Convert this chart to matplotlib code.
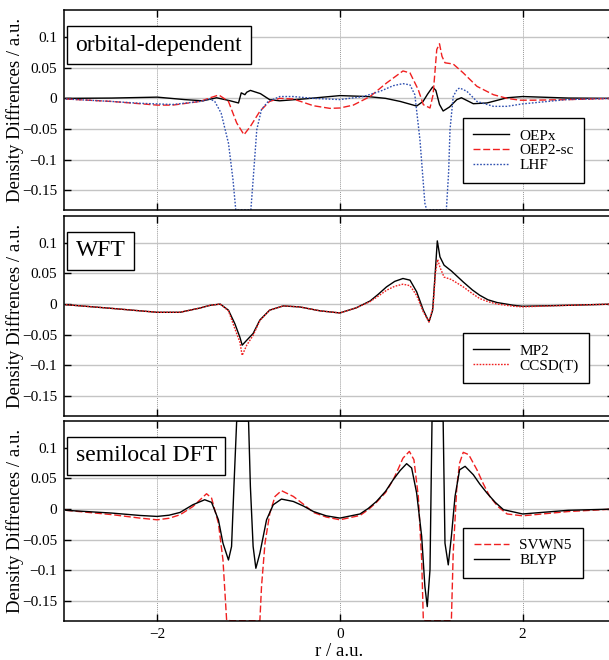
import numpy as np
import matplotlib
matplotlib.use("Agg")
import matplotlib.pyplot as plt
from matplotlib.ticker import FuncFormatter

plt.rcParams['font.family'] = ['Liberation Serif', 'DejaVu Serif']

# panel 1: orbital-dependent
x_oepx = [-3.0, -2.5, -2.0, -1.7, -1.5, -1.35, -1.2, -1.11, -1.08, -1.04, -1.02, -0.98, -0.87, -0.77,
          -0.66, -0.4, 0.0, 0.3, 0.5, 0.66, 0.84, 0.91, 0.96, 1.015, 1.05, 1.09, 1.13, 1.2, 1.28, 1.33,
          1.46, 1.61, 1.83, 2.0, 2.5, 3.0]
y_oepx = [0.0, 0.0005, 0.002, -0.002, -0.004, 0.001, -0.004, -0.0075, 0.009, 0.006, 0.010, 0.013, 0.0077,
          -0.002, -0.004, -0.001, 0.0045, 0.003, 0.0, -0.005, -0.0125, -0.005, 0.007, 0.0186, 0.013, -0.010,
          -0.0206, -0.014, -0.002, 0.001, -0.0087, -0.0075, 0.001, 0.003, 0.0005, 0.0]

x_oep2 = [-3.0, -2.5, -2.19, -2.0, -1.83, -1.53, -1.42, -1.325, -1.22, -1.13, -1.05, -0.98, -0.876, -0.77,
          -0.66, -0.51, -0.29, -0.11, 0.0, 0.146, 0.33, 0.51, 0.69, 0.767, 0.858, 0.913, 0.986, 1.02, 1.06,
          1.09, 1.117, 1.15, 1.24, 1.35, 1.5, 1.68, 1.83, 1.97, 2.11, 2.5, 3.0]
y_oep2 = [-0.001, -0.005, -0.0087, -0.011, -0.011, -0.005, 0.001, 0.0055, -0.005, -0.040, -0.0593, -0.0457,
          -0.021, -0.005, 0.0, -0.001, -0.012, -0.0163, -0.0157, -0.011, 0.003, 0.025, 0.0447, 0.0415, 0.014,
          -0.0103, -0.0157, 0.006, 0.0796, 0.089, 0.0686, 0.058, 0.056, 0.0415, 0.0196, 0.006, 0.0, -0.003,
          -0.003, -0.002, 0.0]

x_lhf = [-3.0, -2.5, -2.19, -1.83, -1.53, -1.42, -1.37, -1.30, -1.22, -1.17, -1.14, -1.06, -0.975, -0.95,
         -0.91, -0.858, -0.785, -0.657, -0.51, -0.29, 0.0, 0.256, 0.44, 0.584, 0.69, 0.767, 0.82, 0.876, 0.93,
         0.95, 1.05, 1.165, 1.19, 1.205, 1.24, 1.28, 1.31, 1.39, 1.5, 1.68, 1.83, 2.0, 2.48, 3.0]
y_lhf = [-0.001, -0.005, -0.008, -0.010, -0.005, -0.001, -0.005, -0.024, -0.073, -0.133, -0.20, -0.35, -0.20,
         -0.133, -0.051, -0.018, -0.005, 0.003, 0.003, 0.0, -0.002, 0.003, 0.0115, 0.0207, 0.024, 0.022, 0.006,
         -0.0675, -0.171, -0.22, -0.35, -0.20, -0.12, -0.051, 0.003, 0.014, 0.017, 0.0115, -0.005, -0.013,
         -0.013, -0.009, -0.002, 0.0]

# panel 2: WFT
x_mp2 = [-3.0, -2.5, -2.19, -2.0, -1.75, -1.53, -1.42, -1.31, -1.22, -1.15, -1.095, -1.07, -1.02, -0.95,
         -0.876, -0.77, -0.62, -0.438, -0.219, 0.0, 0.18, 0.33, 0.42, 0.51, 0.6, 0.69, 0.767, 0.84, 0.913,
         0.975, 1.015, 1.04, 1.066, 1.095, 1.14, 1.22, 1.35, 1.45, 1.53, 1.62, 1.72, 1.90, 2.0, 2.5, 3.0]
y_mp2 = [-0.001, -0.007, -0.011, -0.0134, -0.0134, -0.0064, -0.002, 0.0, -0.010, -0.032, -0.054, -0.067,
         -0.059, -0.048, -0.026, -0.010, -0.003, -0.0047, -0.011, -0.0145, -0.006, 0.005, 0.016, 0.028, 0.037,
         0.0417, 0.039, 0.020, -0.010, -0.029, -0.010, 0.044, 0.103, 0.077, 0.0634, 0.054, 0.036, 0.023,
         0.0144, 0.007, 0.0025, -0.002, -0.0036, -0.002, 0.0]

x_ccsdt = [-3.0, -2.5, -2.19, -2.0, -1.75, -1.53, -1.42, -1.31, -1.22, -1.15, -1.095, -1.07, -1.02, -0.95,
           -0.876, -0.77, -0.62, -0.438, -0.219, 0.0, 0.18, 0.33, 0.42, 0.51, 0.6, 0.69, 0.767, 0.84, 0.913,
           0.975, 1.02, 1.045, 1.07, 1.095, 1.14, 1.22, 1.35, 1.45, 1.53, 1.62, 1.72, 1.90, 2.0, 2.5, 3.0]
y_ccsdt = [-0.001, -0.007, -0.011, -0.0134, -0.0134, -0.0064, -0.002, 0.0, -0.011, -0.040, -0.062, -0.0837,
           -0.067, -0.051, -0.027, -0.010, -0.003, -0.0047, -0.011, -0.0145, -0.006, 0.004, 0.013, 0.0225,
           0.029, 0.0324, 0.030, 0.014, -0.013, -0.029, -0.0047, 0.050, 0.0727, 0.060, 0.044, 0.040, 0.028,
           0.017, 0.009, 0.004, 0.0, -0.0036, -0.0045, -0.002, 0.0]

# panel 3: semilocal DFT
x_svwn = [-3.0, -2.5, -2.19, -2.0, -1.87, -1.75, -1.61, -1.46, -1.405, -1.33, -1.28, -1.24, -1.2, -1.06,
          -0.9, -0.876, -0.858, -0.82, -0.767, -0.71, -0.64, -0.51, -0.4, -0.29, -0.15, 0.0, 0.22, 0.31,
          0.40, 0.5, 0.584, 0.64, 0.69, 0.76, 0.81, 0.858, 0.895, 0.913, 0.93, 1.07, 1.2, 1.22, 1.24, 1.28,
          1.31, 1.35, 1.41, 1.5, 1.57, 1.64, 1.73, 1.83, 2.0, 2.5, 3.0]
y_svwn = [-0.002, -0.009, -0.0147, -0.0175, -0.015, -0.0093, 0.004, 0.025, 0.018, -0.023, -0.083, -0.181,
          -0.25, -0.35, -0.25, -0.19, -0.126, -0.0556, -0.0065, 0.0206, 0.030, 0.0206, 0.008, -0.0055, -0.013,
          -0.0175, -0.0104, -0.001, 0.011, 0.027, 0.048, 0.066, 0.083, 0.094, 0.0805, 0.0206, -0.083, -0.181,
          -0.25, -0.35, -0.25, -0.19, -0.072, 0.037, 0.075, 0.0925, 0.0887, 0.064, 0.041, 0.0206, 0.004,
          -0.008, -0.011, -0.004, 0.0]

x_blyp = [-3.0, -2.5, -2.19, -2.0, -1.87, -1.75, -1.61, -1.48, -1.405, -1.33, -1.28, -1.22, -1.186, -1.16,
          -1.13, -1.065, -1.0, -0.98, -0.95, -0.92, -0.876, -0.803, -0.73, -0.64, -0.51, -0.4, -0.29, -0.15,
          0.0, 0.22, 0.31, 0.40, 0.5, 0.584, 0.66, 0.73, 0.785, 0.84, 0.895, 0.93, 0.956, 0.986, 1.008, 1.07,
          1.13, 1.15, 1.186, 1.22, 1.26, 1.31, 1.37, 1.46, 1.53, 1.61, 1.7, 1.79, 2.0, 2.5, 3.0]
y_blyp = [-0.002, -0.0065, -0.0104, -0.012, -0.010, -0.0055, 0.007, 0.0152, 0.011, -0.0175, -0.0556, -0.083,
          -0.061, 0.037, 0.16, 0.30, 0.16, 0.037, -0.061, -0.0965, -0.072, -0.0175, 0.007, 0.0163, 0.0124,
          0.005, -0.004, -0.011, -0.0147, -0.008, 0.001, 0.0124, 0.029, 0.048, 0.063, 0.074, 0.067, 0.026,
          -0.0447, -0.126, -0.159, -0.099, 0.16, 0.30, 0.16, -0.0556, -0.091, -0.0447, 0.0206, 0.064, 0.0697,
          0.056, 0.041, 0.026, 0.011, -0.001, -0.008, -0.002, 0.0]

panel_titles = ["orbital-dependent", "WFT", "semilocal DFT"]
y_ticks = [-0.15, -0.1, -0.05, 0, 0.05, 0.1]
x_ticks = [-2, 0, 2]
ylo, yhi = -0.182, 0.1435

RED = '#f02020'
BLUE = '#2e4fb0'

fig = plt.figure(figsize=(6.09, 6.6), dpi=100)
left, width, height = 64 / 609, 550 / 609, 0.3025
bottoms = [1 - 210 / 660, 1 - 415.7 / 660, 1 - 620.7 / 660]
axes = [fig.add_axes([left, b, width, height]) for b in bottoms]


def fmt(v, pos):
    s = '%g' % v
    return s.replace('-', '\u2212')


def style(ax, title, show_x):
    ax.set_xlim(-3.02, 3.0)
    ax.set_ylim(ylo, yhi)
    ax.set_xticks(x_ticks)
    ax.set_yticks(y_ticks)
    ax.yaxis.set_major_formatter(FuncFormatter(fmt))
    ax.xaxis.set_major_formatter(FuncFormatter(fmt))
    ax.tick_params(direction='in', top=True, right=True, length=5, width=1, labelsize=11, pad=5)
    if not show_x:
        ax.tick_params(labelbottom=False)
    for sp in ax.spines.values():
        sp.set_linewidth(1.1)
    ax.xaxis.grid(True, color='#999999', linestyle=(0, (1, 1)), linewidth=0.7)
    ax.yaxis.grid(True, color='#c4c4c4', linestyle='-', linewidth=1.0)
    ax.set_axisbelow(True)
    ax.set_ylabel('Density Diffrences / a.u.', fontsize=13.5)
    ax.yaxis.set_label_coords(-0.073, 0.5)
    ax.text(0.021, 0.825, title, transform=ax.transAxes, fontsize=17, va='center', ha='left',
            bbox=dict(boxstyle='square,pad=0.36', facecolor='white', edgecolor='black', linewidth=1.0))


def curve(ax, x, y, **kw):
    ax.plot(x, np.clip(y, ylo, yhi), **kw)


ax1, ax2, ax3 = axes
curve(ax1, x_oepx, y_oepx, color='black', lw=1.0, label='OEPx')
curve(ax1, x_oep2, y_oep2, color=RED, lw=1.0, linestyle=(0, (5, 2)), label='OEP2-sc')
curve(ax1, x_lhf, y_lhf, color=BLUE, lw=1.0, linestyle=(0, (1.2, 1.2)), label='LHF')

curve(ax2, x_mp2, y_mp2, color='black', lw=1.0, label='MP2')
curve(ax2, x_ccsdt, y_ccsdt, color=RED, lw=1.0, linestyle=(0, (1.2, 1.0)), label='CCSD(T)')

curve(ax3, x_svwn, y_svwn, color=RED, lw=1.0, linestyle=(0, (5, 2)), label='SVWN5')
curve(ax3, x_blyp, y_blyp, color='black', lw=1.0, label='BLYP')

for ax, t, show in zip(axes, panel_titles, [False, False, True]):
    style(ax, t, show)

leg_anchor = [(0.946, 0.46), (0.955, 0.413), (0.943, 0.464)]
for ax, anc in zip(axes, leg_anchor):
    leg = ax.legend(loc='upper right', bbox_to_anchor=anc, borderaxespad=0, fontsize=11,
                    fancybox=False, framealpha=1, edgecolor='black', handlelength=2.3,
                    handletextpad=0.7, labelspacing=0.08, borderpad=0.7)
    leg.get_frame().set_linewidth(1.0)

ax3.set_xlabel('r / a.u.', fontsize=13.5, labelpad=2)

fig.savefig('out.png', dpi=100)
